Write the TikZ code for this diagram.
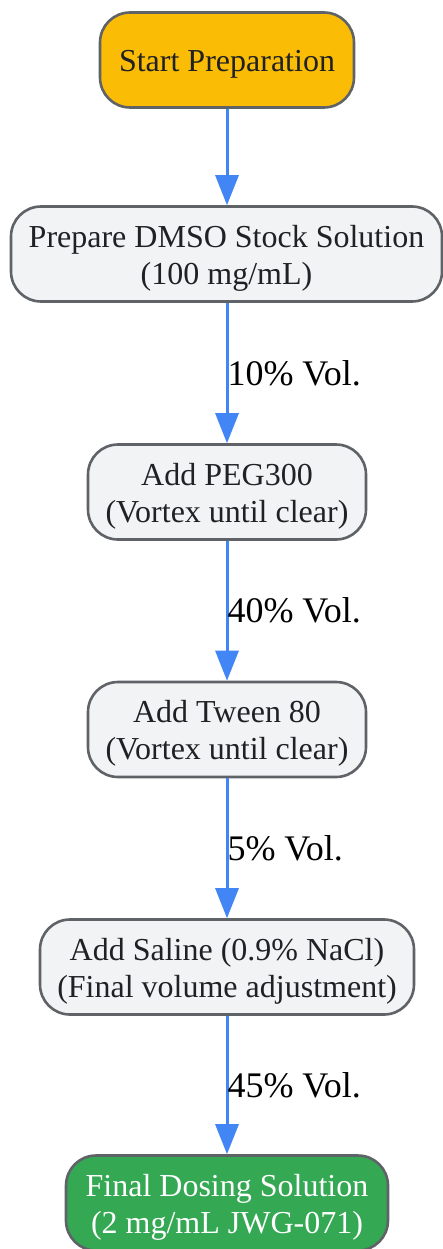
\documentclass[tikz,border=0pt]{standalone}
\usepackage{fontspec}
\setmainfont{Liberation Serif}
\usetikzlibrary{arrows.meta}
\definecolor{startyellow}{HTML}{FBBC05}
\definecolor{stepgray}{HTML}{F1F3F4}
\definecolor{finalgreen}{HTML}{34A853}
\definecolor{bordergray}{HTML}{5F6368}
\definecolor{textgray}{HTML}{202124}
\definecolor{flowblue}{HTML}{4285F4}
\begin{document}
\begin{tikzpicture}[x=1pt,y=-1pt,
	stepbox/.style={draw=bordergray,line width=2.6pt,rounded corners=30pt,
		fill=stepgray,inner sep=0pt,minimum height=95pt},
	steptext/.style={text=textgray,align=center,inner sep=0pt,yshift=-4pt,
		font=\fontsize{32}{37}\selectfont},
	flow/.style={draw=flowblue,line width=3pt,-{Triangle[length=30pt,width=23pt]}},
	vollabel/.style={anchor=west,inner sep=0pt,text=black,font=\fontsize{36}{42}\selectfont}]
	\useasboundingbox (0,0) rectangle (443,1249);
	%Positions of the steps
	\coordinate (cstart) at (227,60);
	\coordinate (cdmso) at (226.5,254);
	\coordinate (cpeg) at (227,492);
	\coordinate (ctween) at (227,729.5);
	\coordinate (csaline) at (227,967);
	\coordinate (cfinal) at (227,1203);
	%The steps
	\node [stepbox,fill=startyellow,minimum width=254pt,
		label={[steptext]center:Start Preparation}] (start) at (cstart) {};
	\node [stepbox,minimum width=431pt,
		label={[steptext]center:Prepare DMSO Stock Solution\\(100 mg/mL)}] (dmso) at (cdmso) {};
	\node [stepbox,minimum width=278pt,
		label={[steptext]center:Add PEG300\\(Vortex until clear)}] (peg) at (cpeg) {};
	\node [stepbox,minimum width=278pt,
		label={[steptext]center:Add Tween 80\\(Vortex until clear)}] (tween) at (ctween) {};
	\node [stepbox,minimum width=374pt,
		label={[steptext]center:Add Saline (0.9\% NaCl)\\(Final volume adjustment)}] (saline) at (csaline) {};
	\node [stepbox,fill=finalgreen,minimum width=322pt,
		label={[steptext,text=white]center:Final Dosing Solution\\(2 mg/mL JWG-071)}] (final) at (cfinal) {};
	%The arrows with the volume fractions
	\draw [flow] (start) -- (dmso.north -| start);
	\draw [flow] (dmso.south -| peg) -- node [vollabel,xshift=-1pt] {10\% Vol.} (peg);
	\draw [flow] (peg) -- node [vollabel,xshift=-1pt] {40\% Vol.} (tween);
	\draw [flow] (tween) -- node [vollabel,xshift=-1pt] {5\% Vol.} (saline);
	\draw [flow] (saline) -- node [vollabel,xshift=-1pt] {45\% Vol.} (final);
\end{tikzpicture}
\end{document}
